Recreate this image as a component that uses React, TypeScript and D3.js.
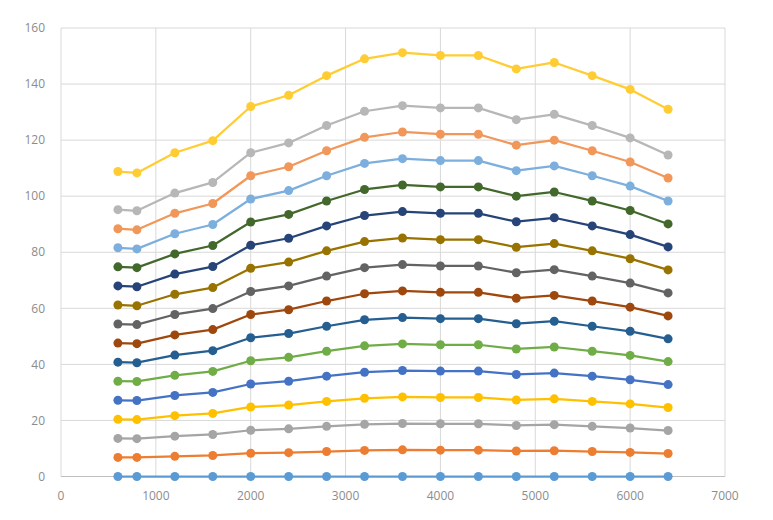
import React from "react";
import * as d3 from "d3";

const xValues = [600, 800, 1200, 1600, 2000, 2400, 2800, 3200, 3600, 4000, 4400, 4800, 5200, 5600, 6000, 6400];

const s1 = [0, 0, 0, 0, 0, 0, 0, 0, 0, 0, 0, 0, 0, 0, 0, 0];
const s2 = [6.8, 6.8, 7.2, 7.5, 8.3, 8.5, 8.9, 9.3, 9.5, 9.4, 9.4, 9.1, 9.2, 8.9, 8.6, 8.2];
const s3 = [13.6, 13.5, 14.4, 15.0, 16.5, 17.0, 17.9, 18.6, 18.9, 18.8, 18.8, 18.2, 18.5, 17.9, 17.3, 16.4];
const s4 = [20.4, 20.3, 21.7, 22.5, 24.8, 25.5, 26.8, 27.9, 28.4, 28.2, 28.2, 27.3, 27.7, 26.8, 25.9, 24.6];
const s5 = [27.2, 27.1, 28.9, 30.0, 33.0, 34.0, 35.8, 37.2, 37.8, 37.6, 37.6, 36.4, 36.9, 35.8, 34.5, 32.8];
const s6 = [34.0, 33.9, 36.1, 37.5, 41.3, 42.5, 44.7, 46.6, 47.3, 47.0, 47.0, 45.5, 46.2, 44.7, 43.2, 41.0];
const s7 = [40.8, 40.6, 43.3, 44.9, 49.5, 51.0, 53.6, 55.9, 56.7, 56.3, 56.3, 54.5, 55.4, 53.6, 51.8, 49.1];
const s8 = [47.6, 47.4, 50.5, 52.4, 57.8, 59.5, 62.6, 65.2, 66.2, 65.7, 65.7, 63.6, 64.6, 62.6, 60.4, 57.3];
const s9 = [54.4, 54.2, 57.8, 59.9, 66.0, 68.0, 71.5, 74.5, 75.6, 75.1, 75.1, 72.7, 73.8, 71.5, 69.0, 65.5];
const s10 = [61.2, 60.9, 65.0, 67.4, 74.3, 76.5, 80.5, 83.8, 85.1, 84.5, 84.5, 81.8, 83.1, 80.5, 77.7, 73.7];
const s11 = [68.0, 67.7, 72.2, 74.9, 82.5, 85.0, 89.4, 93.1, 94.5, 93.9, 93.9, 90.9, 92.3, 89.4, 86.3, 81.9];
const s12 = [74.8, 74.5, 79.4, 82.4, 90.8, 93.5, 98.3, 102.4, 104.0, 103.3, 103.3, 100.0, 101.5, 98.3, 94.9, 90.1];
const s13 = [81.6, 81.2, 86.6, 89.9, 99.0, 102.0, 107.3, 111.7, 113.4, 112.7, 112.7, 109.1, 110.8, 107.3, 103.6, 98.3];
const s14 = [88.4, 88.0, 93.9, 97.4, 107.3, 110.5, 116.2, 121.0, 122.9, 122.1, 122.1, 118.2, 120.0, 116.2, 112.2, 106.5];
const s15 = [95.2, 94.8, 101.1, 104.9, 115.5, 119.0, 125.2, 130.3, 132.3, 131.5, 131.5, 127.3, 129.2, 125.2, 120.8, 114.7];
const s16 = [108.8, 108.3, 115.5, 119.8, 132.0, 136.0, 143.0, 149.0, 151.2, 150.2, 150.2, 145.4, 147.7, 143.0, 138.1, 131.0];

const seriesList = [s1, s2, s3, s4, s5, s6, s7, s8, s9, s10, s11, s12, s13, s14, s15, s16];
const colors = [
  "#5B9BD5", "#ED7D31", "#A5A5A5", "#FFC000", "#4472C4", "#70AD47", "#255E91", "#9E480E",
  "#636363", "#997300", "#264478", "#43682B", "#7CAFDD", "#F1975A", "#B7B7B7", "#FFCD33",
];

const xTicks = [0, 1000, 2000, 3000, 4000, 5000, 6000, 7000];
const yTicks = [0, 20, 40, 60, 80, 100, 120, 140, 160];

const W = 773;
const H = 520;
const left = 61;
const right = 725;
const top = 28;
const bottom = 476.5;

export default function App() {
  const x = d3.scaleLinear().domain([0, 7000]).range([left, right]);
  const y = d3.scaleLinear().domain([0, 160]).range([bottom, top]);
  const line = d3
    .line<number>()
    .x((_, i) => x(xValues[i]))
    .y((d) => y(d));

  return (
    <svg
      width={W}
      height={H}
      style={{ position: "absolute", left: 0, top: 0, background: "#fff" }}
      fontFamily="'Open Sans', 'Liberation Sans', sans-serif"
    >
      <rect x={0} y={0} width={W} height={H} fill="#fff" />
      {yTicks.map((t) => (
        <line key={"gy" + t} x1={left} x2={right} y1={y(t)} y2={y(t)} stroke="#d9d9d9" strokeWidth={1} />
      ))}
      {xTicks.map((t) => (
        <line key={"gx" + t} x1={x(t)} x2={x(t)} y1={top} y2={bottom} stroke="#d9d9d9" strokeWidth={1} />
      ))}
      <line x1={left} x2={right} y1={bottom} y2={bottom} stroke="#bfbfbf" strokeWidth={1} />
      {yTicks.map((t) => (
        <text key={"ty" + t} x={45} y={y(t)} dy="0.35em" textAnchor="end" fontSize={12} fill="#8c8c8c">
          {t}
        </text>
      ))}
      {xTicks.map((t) => (
        <text key={"tx" + t} x={x(t)} y={496} dy="0.35em" textAnchor="middle" fontSize={12} fill="#8c8c8c">
          {t}
        </text>
      ))}
      {seriesList.map((s, si) => (
        <g key={"s" + si}>
          <path d={line(s) || ""} fill="none" stroke={colors[si]} strokeWidth={2.25} strokeLinejoin="round" />
          {s.map((v, i) => (
            <circle key={i} cx={x(xValues[i])} cy={y(v)} r={4.5} fill={colors[si]} />
          ))}
        </g>
      ))}
    </svg>
  );
}
